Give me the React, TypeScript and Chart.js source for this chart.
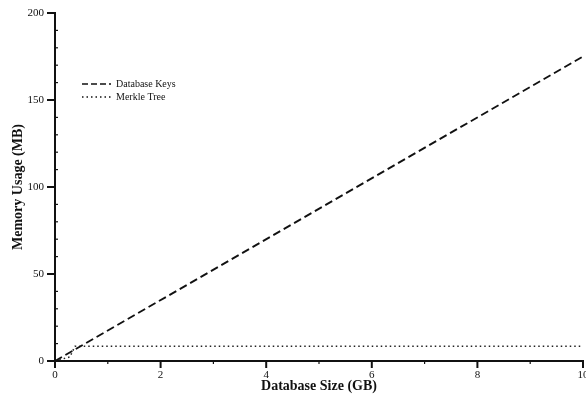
import React, { useEffect, useRef } from "react";
import { Chart, registerables } from "chart.js";
Chart.register(...registerables);

const seriesNames = ["Database Keys", "Merkle Tree"];
const dbKeysX = [0, 10];
const dbKeysY = [0, 175];
const merkleX = [0, 0.28, 0.38, 10];
const merkleY = [0, 2.3, 8.5, 8.5];
const xTicks = [0, 2, 4, 6, 8, 10];
const yTicks = [0, 50, 100, 150, 200];
const xTitle = "Database Size (GB)";
const yTitle = "Memory Usage (MB)";

const FONT = "'Liberation Serif', 'Times New Roman', serif";

const ticksPlugin = {
  id: "customTicks",
  afterDraw(chart: any) {
    const ctx = chart.ctx;
    const xs = chart.scales.x;
    const ys = chart.scales.y;
    const a = chart.chartArea;
    ctx.save();
    ctx.strokeStyle = "#111";
    ctx.setLineDash([]);
    // y ticks
    for (let v = 0; v <= 200; v += 10) {
      const y = ys.getPixelForValue(v);
      const major = v % 50 === 0;
      ctx.lineWidth = major ? 2 : 1.2;
      ctx.beginPath();
      if (major) {
        ctx.moveTo(a.left - 8, y);
        ctx.lineTo(a.left, y);
      } else {
        ctx.moveTo(a.left, y);
        ctx.lineTo(a.left + 3, y);
      }
      ctx.stroke();
    }
    // x ticks
    for (let v = 0; v <= 10; v += 1) {
      const x = xs.getPixelForValue(v);
      const major = v % 2 === 0;
      ctx.lineWidth = major ? 2 : 1.2;
      ctx.beginPath();
      if (major) {
        ctx.moveTo(x, a.bottom);
        ctx.lineTo(x, a.bottom + 7);
      } else {
        ctx.moveTo(x, a.bottom);
        ctx.lineTo(x, a.bottom + 3);
      }
      ctx.stroke();
    }
    // legend
    const lx0 = a.left + 27;
    const lx1 = a.left + 56;
    const ly = [a.top + 71, a.top + 84];
    const dashes = [[6, 3], [1.5, 3]];
    ctx.font = "10px " + FONT;
    ctx.fillStyle = "#111";
    ctx.textBaseline = "middle";
    for (let i = 0; i < 2; i++) {
      ctx.setLineDash(dashes[i]);
      ctx.lineWidth = 1.3;
      ctx.beginPath();
      ctx.moveTo(lx0, ly[i]);
      ctx.lineTo(lx1, ly[i]);
      ctx.stroke();
      ctx.setLineDash([]);
      ctx.fillText(seriesNames[i], lx1 + 5, ly[i]);
    }
    ctx.restore();
  },
};

export default function App() {
  const ref = useRef<HTMLCanvasElement>(null);
  useEffect(() => {
    document.body.style.margin = "0";
    const chart = new Chart(ref.current!, {
      type: "scatter",
      data: {
        datasets: [
          {
            label: seriesNames[0],
            data: dbKeysX.map((x, i) => ({ x, y: dbKeysY[i] })),
            showLine: true,
            borderColor: "#111",
            borderWidth: 1.9,
            borderDash: [8, 4],
            pointRadius: 0,
            fill: false,
          },
          {
            label: seriesNames[1],
            data: merkleX.map((x, i) => ({ x, y: merkleY[i] })),
            showLine: true,
            borderColor: "#222",
            borderWidth: 1.5,
            borderDash: [1.5, 3],
            pointRadius: 0,
            fill: false,
          },
        ],
      },
      options: {
        animation: false,
        responsive: false,
        layout: { padding: { top: 13, right: 3, left: 0, bottom: 0 } },
        plugins: { legend: { display: false }, tooltip: { enabled: false } },
        scales: {
          x: {
            type: "linear",
            min: 0,
            max: 10,
            afterBuildTicks: (s: any) => {
              s.ticks = xTicks.map((v) => ({ value: v }));
            },
            afterFit: (s: any) => {
              s.height = 41;
              s.paddingLeft = 0;
              s.paddingRight = 0;
            },
            grid: { display: false },
            border: { display: true, color: "#111", width: 2 },
            ticks: {
              color: "#111",
              padding: 0,
              font: { family: FONT, size: 11 },
              maxRotation: 0,
            },
            title: {
              display: true,
              text: xTitle,
              color: "#111",
              font: { family: FONT, size: 14, weight: "bold" },
              padding: { top: 0, bottom: 7 },
            },
          },
          y: {
            type: "linear",
            min: 0,
            max: 200,
            afterBuildTicks: (s: any) => {
              s.ticks = yTicks.map((v) => ({ value: v }));
            },
            afterFit: (s: any) => {
              s.width = 55;
              s.paddingTop = 0;
              s.paddingBottom = 0;
            },
            grid: { display: false },
            border: { display: true, color: "#111", width: 2 },
            ticks: {
              color: "#111",
              padding: 3,
              font: { family: FONT, size: 11 },
            },
            title: {
              display: true,
              text: yTitle,
              color: "#111",
              font: { family: FONT, size: 14, weight: "bold" },
              padding: { top: 9.5, bottom: 0 },
            },
          },
        },
      } as any,
      plugins: [ticksPlugin],
    });
    return () => chart.destroy();
  }, []);
  return (
    <div style={{ position: "fixed", left: 0, top: 0, width: 586, height: 402, background: "#fff" }}>
      <canvas ref={ref} width={586} height={402} style={{ width: 586, height: 402 }} />
    </div>
  );
}
